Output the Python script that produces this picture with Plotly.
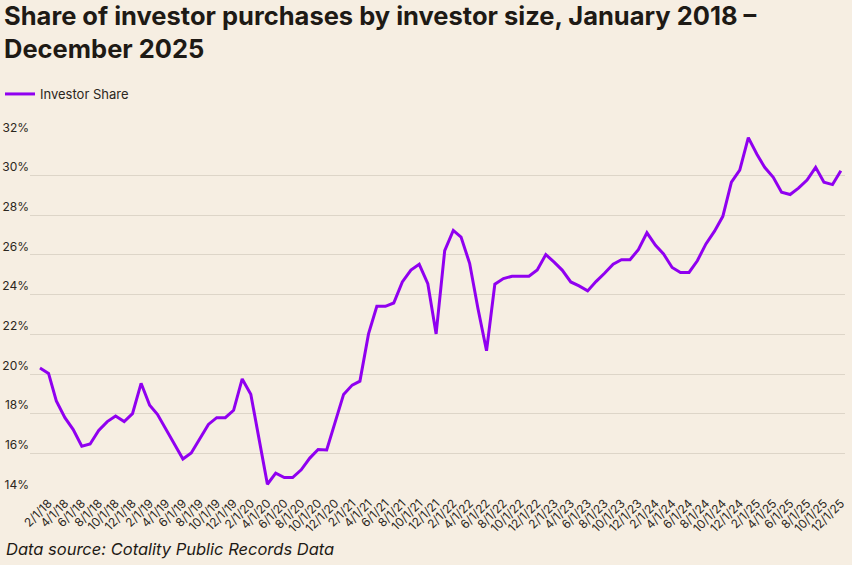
import plotly.graph_objects as go
import pandas as pd

# monthly observations, Jan 2018 - Dec 2025
months = pd.date_range("2018-01-01", "2025-12-01", freq="MS")

investor_share = [
    20.3, 20.03, 18.64, 17.8, 17.2, 16.36, 16.47, 17.15, 17.6, 17.88, 17.6, 18.0,      # 2018
    19.53, 18.42, 17.97, 17.2, 16.45, 15.71, 16.02, 16.75, 17.46, 17.8, 17.8, 18.17,  # 2019
    19.75, 18.98, 16.7, 14.44, 15.0, 14.78, 14.78, 15.17, 15.76, 16.19, 16.17, 17.61, # 2020
    18.97, 19.44, 19.64, 22.02, 23.41, 23.41, 23.58, 24.64, 25.24, 25.53, 24.56, 22.02, # 2021
    26.22, 27.24, 26.9, 25.58, 23.3, 21.17, 24.53, 24.81, 24.93, 24.93, 24.93, 25.24, # 2022
    26.02, 25.63, 25.24, 24.64, 24.44, 24.19, 24.66, 25.08, 25.54, 25.76, 25.76, 26.27, # 2023
    27.12, 26.49, 26.05, 25.37, 25.12, 25.12, 25.71, 26.56, 27.2, 27.95, 29.67, 30.28, # 2024
    31.92, 31.08, 30.42, 29.92, 29.17, 29.05, 29.37, 29.78, 30.42, 29.67, 29.55, 30.25, # 2025
]

# every other month gets a label: 2/1/18, 4/1/18 ... 12/1/25
x_ticks = months[1::2]

y_ticks = [14, 16, 18, 20, 22, 24, 26, 28, 30, 32]
y_tick_labels = ["14%", "16%", "18%", "20%", "22%", "24%", "26%", "28%", "30%", "32%"]

title_text = "Share of investor purchases by investor size, January 2018 –<br>December 2025"
source_text = "Data source: Cotality Public Records Data"

BG = "#F6EEE2"
PURPLE = "#9000F0"
INK = "#1E1A15"


def create_figure():
    fig = go.Figure()
    fig.update_layout(width=852, height=565, paper_bgcolor=BG, plot_bgcolor=BG)
    fig.update_layout(margin=dict(l=30, r=7, t=135, b=72))
    fig.update_layout(font=dict(family="Inter", size=12, color="#2B2620"))
    return fig


def plot_line(fig):
    fig.add_trace(go.Scatter(name="Investor Share", x=months, y=investor_share,
                             mode="lines", line=dict(color=PURPLE, width=3)))


def touch_up(fig):
    fig.update_layout(title=dict(text=title_text, x=4 / 852, xref="container", xanchor="left",
                                 y=1 - 25 / 565, yref="container", yanchor="top",
                                 font=dict(family="Inter", size=25.5, color=INK, weight=700)))

    fig.update_layout(showlegend=True,
                      legend=dict(orientation="h", xref="container", x=-6 / 852, xanchor="left",
                                  yref="container", y=1 - 94 / 565, yanchor="middle",
                                  bgcolor="rgba(0,0,0,0)", font=dict(size=13, color="#2B2620")))

    fig.update_xaxes(range=["2017-11-26", "2025-12-16"], tickvals=x_ticks,
                     tickformat="%-m/%-d/%y", tickangle=-45, showgrid=False, zeroline=False,
                     showline=False, ticks="", automargin=False,
                     tickfont=dict(size=12, color="#2B2620"))

    fig.update_yaxes(range=[14, 32.05], tickvals=y_ticks, ticktext=y_tick_labels, showgrid=True,
                     gridcolor="#DDD5C8", gridwidth=1, zeroline=False, showline=False, ticks="",
                     ticklabelposition="outside top", ticklabelstandoff=0, automargin=False,
                     tickfont=dict(size=12, color="#2B2620"))

    fig.add_annotation(text=source_text, xref="paper", yref="paper", x=-26 / 815, y=-56 / 358,
                       xanchor="left", yanchor="middle", showarrow=False,
                       font=dict(family="Inter", size=16.5, color=INK, style="italic"))


fig = create_figure()
plot_line(fig)
touch_up(fig)
# page body has a default 8px margin, drop it so the figure sits at the corner
fig.write_html("out.html", config={"displayModeBar": False},
               post_script="document.body.style.margin='0px';")
